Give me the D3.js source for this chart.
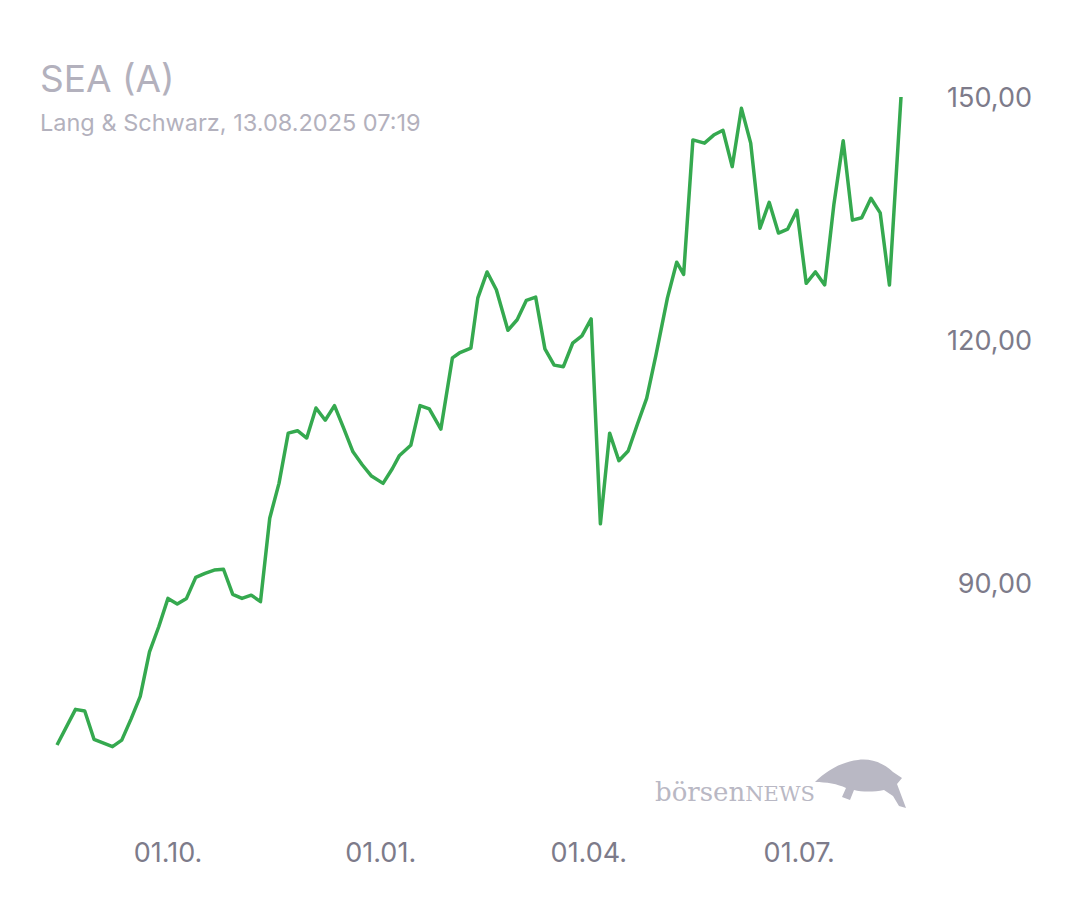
<!DOCTYPE html>
<html><head><meta charset="utf-8">
<script src="https://cdn.jsdelivr.net/npm/d3@7"></script>
<style>body{margin:0;background:#fff}</style>
</head><body><svg id="chart" width="1080" height="900"></svg>
<script>
// jours depuis le premier point (14.08.2024) et cours
const jours = [0,8,12,16,24,28,32,36,40,44,48,52,56,60,64,68,72,76,80,84,88,92,96,100,104,108,112,116,120,124,128,132,136,141,145,148,153,157,161,166,171,174,179,182,186,190,195,199,203,207,211,215,219,223,227,231,235,239,243,247,251,255,259,264,268,271,275,280,284,288,292,296,300,304,308,312,316,320,324,328,332,336,340,344,348,352,356,360,365];
const cours = [70.0,74.4,74.2,70.7,69.8,70.6,73.2,76.0,81.5,84.6,88.1,87.4,88.1,90.7,91.2,91.6,91.7,88.6,88.1,88.5,87.7,98.0,102.3,108.5,108.8,107.9,111.6,110.1,111.9,109.1,106.2,104.6,103.2,102.3,104.1,105.7,107.0,111.9,111.5,109.0,117.8,118.4,119.0,125.2,128.4,126.2,121.2,122.5,124.9,125.3,118.9,116.9,116.7,119.6,120.5,122.6,97.3,108.5,105.1,106.3,109.6,112.8,118.1,125.2,129.6,128.1,144.7,144.3,145.3,145.9,141.4,148.6,144.3,133.8,137.0,133.2,133.7,136.0,127.0,128.4,126.8,136.8,144.6,134.8,135.1,137.5,135.7,126.8,150.0];
const yTicks = [90, 120, 150];
const xTicks = ["2024-10-01", "2025-01-01", "2025-04-01", "2025-07-01"];

const debut = new Date(2024, 7, 14);
const data = jours.map((j, i) => ({ date: d3.timeDay.offset(debut, j), v: cours[i] }));

const svg = d3.select("#chart");
const x = d3.scaleTime().domain([debut, d3.timeDay.offset(debut, 365)]).range([57, 901]);
const y = d3.scaleLinear().domain([90, 150]).range([583, 97]);

// titre
svg.append("text").attr("x", 40).attr("y", 92).attr("font-family", "Inter, sans-serif")
  .attr("font-size", 37).attr("fill", "#b3b1bd").text("SEA (A)");
svg.append("text").attr("x", 40).attr("y", 131).attr("font-family", "Inter, sans-serif")
  .attr("font-size", 23.5).attr("fill", "#b3b1bd").text("Lang & Schwarz, 13.08.2025 07:19");

// axe y
svg.selectAll(".yt").data(yTicks).join("text")
  .attr("x", 1032).attr("y", d => y(d) + 10).attr("text-anchor", "end")
  .attr("font-family", "Inter, sans-serif").attr("font-size", 27).attr("fill", "#7d7b8a")
  .text(d => d3.format(".2f")(d).replace(".", ","));

// axe x
svg.selectAll(".xt").data(xTicks).join("text")
  .attr("x", d => x(d3.timeParse("%Y-%m-%d")(d))).attr("y", 862).attr("text-anchor", "middle")
  .attr("font-family", "Inter, sans-serif").attr("font-size", 27).attr("fill", "#7d7b8a")
  .text(d => d3.timeFormat("%d.%m.")(d3.timeParse("%Y-%m-%d")(d)));

// courbe
svg.append("path").datum(data)
  .attr("d", d3.line().x(d => x(d.date)).y(d => y(d.v)))
  .attr("fill", "none").attr("stroke", "#35a94f").attr("stroke-width", 3.5)
  .attr("stroke-linejoin", "round");

// logo
const logo = svg.append("g").attr("fill", "#b9b8c4");
logo.append("text").attr("x", 655).attr("y", 801).attr("font-family", "DejaVu Serif, serif")
  .attr("font-size", 26).text("börsen")
  .append("tspan").attr("font-size", 21).text("NEWS");
logo.append("path").attr("d", "M815,782 C825,772 840,762 858,760 C872,758 885,764 893,772 L902,778 L897,784 L900,792 L906,808 L899,806 L893,796 L884,790 C874,792 862,792 854,790 L850,800 L842,797 L846,788 C838,784 826,782 815,782 Z");
</script>
</body></html>
